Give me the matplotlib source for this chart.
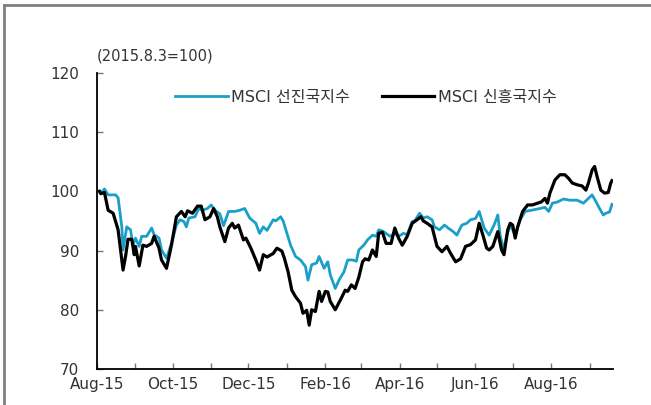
import matplotlib
matplotlib.use("Agg")
import matplotlib.pyplot as plt
import matplotlib.dates as mdates
from matplotlib.lines import Line2D
import pandas as pd

# Latin text in DejaVu (wide like the original), Hangul falls back to Noto CJK
plt.rcParams['font.family'] = ['DejaVu Sans', 'Noto Sans CJK KR']

# MSCI developed markets index (2015.8.3=100)
dev_dates = [
    "2015-08-03", "2015-08-05", "2015-08-07", "2015-08-10", "2015-08-16", "2015-08-18",
    "2015-08-21", "2015-08-22", "2015-08-25", "2015-08-28", "2015-08-30", "2015-09-01",
    "2015-09-04", "2015-09-06", "2015-09-10", "2015-09-14", "2015-09-16", "2015-09-20",
    "2015-09-22", "2015-09-26", "2015-09-30", "2015-10-04", "2015-10-07", "2015-10-10",
    "2015-10-12", "2015-10-14", "2015-10-19", "2015-10-22", "2015-10-25", "2015-10-29",
    "2015-11-01", "2015-11-04", "2015-11-08", "2015-11-11", "2015-11-15", "2015-11-20",
    "2015-11-24", "2015-11-28", "2015-12-02", "2015-12-07", "2015-12-10", "2015-12-13",
    "2015-12-16", "2015-12-21", "2015-12-23", "2015-12-27", "2015-12-29", "2016-01-04",
    "2016-01-08", "2016-01-12", "2016-01-16", "2016-01-18", "2016-01-21", "2016-01-25",
    "2016-01-27", "2016-01-31", "2016-02-03", "2016-02-05", "2016-02-09", "2016-02-12",
    "2016-02-16", "2016-02-19", "2016-02-23", "2016-02-26", "2016-02-28", "2016-03-03",
    "2016-03-06", "2016-03-10", "2016-03-13", "2016-03-15", "2016-03-19", "2016-03-24",
    "2016-03-28", "2016-03-31", "2016-04-04", "2016-04-07", "2016-04-11", "2016-04-13",
    "2016-04-17", "2016-04-20", "2016-04-23", "2016-04-27", "2016-04-29", "2016-05-03",
    "2016-05-07", "2016-05-10", "2016-05-14", "2016-05-17", "2016-05-21", "2016-05-25",
    "2016-05-28", "2016-06-01", "2016-06-04", "2016-06-08", "2016-06-12", "2016-06-16",
    "2016-06-19", "2016-06-21", "2016-06-24", "2016-06-26", "2016-06-29", "2016-07-03",
    "2016-07-07", "2016-07-11", "2016-07-16", "2016-07-23", "2016-07-27", "2016-07-30",
    "2016-08-02", "2016-08-06", "2016-08-11", "2016-08-16", "2016-08-22", "2016-08-27",
    "2016-08-31", "2016-09-03", "2016-09-06", "2016-09-09", "2016-09-12", "2016-09-14",
    "2016-09-17", "2016-09-19",
]
dev_values = [
    100.0, 99.8, 100.4, 99.4, 99.4, 98.9,
    94.0, 90.1, 94.0, 93.5, 90.9, 92.1,
    90.7, 92.4, 92.4, 93.8, 92.7, 92.1,
    90.1, 88.7, 91.2, 94.3, 95.2, 94.9,
    94.0, 95.5, 95.7, 97.1, 96.8, 97.1,
    97.7, 96.8, 96.2, 94.2, 96.6, 96.6,
    96.8, 97.1, 95.5, 94.6, 92.9, 94.0,
    93.4, 95.2, 95.0, 95.7, 95.0, 90.9,
    89.0, 88.4, 87.3, 85.0, 87.6, 87.9,
    89.0, 87.0, 88.1, 85.9, 83.6, 85.0,
    86.4, 88.4, 88.4, 88.2, 90.1, 90.9,
    91.8, 92.6, 92.4, 93.5, 93.2, 92.4,
    92.9, 92.4, 92.9, 92.7, 94.9, 95.0,
    96.3, 95.5, 95.7, 95.2, 94.0, 93.5,
    94.3, 93.8, 93.2, 92.6, 94.3, 94.6,
    95.2, 95.4, 96.6, 93.8, 92.6, 94.3,
    96.0, 92.4, 90.1, 92.4, 94.3, 92.6,
    95.2, 96.6, 96.8, 97.1, 97.3, 96.6,
    98.0, 98.2, 98.7, 98.5, 98.5, 98.0,
    98.8, 99.4, 98.3, 97.1, 96.0, 96.3,
    96.5, 97.8,
]

# MSCI emerging markets index (2015.8.3=100)
em_dates = [
    "2015-08-03", "2015-08-04", "2015-08-07", "2015-08-10", "2015-08-14", "2015-08-18",
    "2015-08-22", "2015-08-24", "2015-08-26", "2015-08-29", "2015-08-31", "2015-09-01",
    "2015-09-04", "2015-09-07", "2015-09-10", "2015-09-14", "2015-09-16", "2015-09-20",
    "2015-09-22", "2015-09-26", "2015-09-30", "2015-10-04", "2015-10-08", "2015-10-11",
    "2015-10-13", "2015-10-17", "2015-10-21", "2015-10-24", "2015-10-27", "2015-10-31",
    "2015-11-03", "2015-11-06", "2015-11-08", "2015-11-11", "2015-11-12", "2015-11-15",
    "2015-11-18", "2015-11-20", "2015-11-23", "2015-11-27", "2015-11-29", "2015-12-03",
    "2015-12-07", "2015-12-10", "2015-12-13", "2015-12-16", "2015-12-21", "2015-12-24",
    "2015-12-28", "2015-12-30", "2016-01-02", "2016-01-05", "2016-01-08", "2016-01-12",
    "2016-01-14", "2016-01-17", "2016-01-19", "2016-01-21", "2016-01-24", "2016-01-27",
    "2016-01-29", "2016-02-01", "2016-02-03", "2016-02-05", "2016-02-09", "2016-02-14",
    "2016-02-17", "2016-02-19", "2016-02-22", "2016-02-25", "2016-02-28", "2016-03-02",
    "2016-03-04", "2016-03-07", "2016-03-10", "2016-03-13", "2016-03-15", "2016-03-18",
    "2016-03-21", "2016-03-25", "2016-03-28", "2016-03-31", "2016-04-03", "2016-04-07",
    "2016-04-11", "2016-04-15", "2016-04-18", "2016-04-20", "2016-04-23", "2016-04-27",
    "2016-05-01", "2016-05-05", "2016-05-09", "2016-05-12", "2016-05-16", "2016-05-20",
    "2016-05-24", "2016-05-28", "2016-06-01", "2016-06-04", "2016-06-07", "2016-06-10",
    "2016-06-12", "2016-06-15", "2016-06-19", "2016-06-22", "2016-06-24", "2016-06-27",
    "2016-06-29", "2016-07-01", "2016-07-03", "2016-07-05", "2016-07-09", "2016-07-13",
    "2016-07-17", "2016-07-21", "2016-07-24", "2016-07-27", "2016-07-29", "2016-07-31",
    "2016-08-04", "2016-08-08", "2016-08-12", "2016-08-15", "2016-08-18", "2016-08-22",
    "2016-08-26", "2016-08-29", "2016-08-31", "2016-09-03", "2016-09-05", "2016-09-07",
    "2016-09-10", "2016-09-13", "2016-09-16", "2016-09-18", "2016-09-19",
]
em_values = [
    100.0, 99.6, 99.8, 96.8, 96.3, 93.5,
    86.7, 89.0, 91.9, 91.9, 89.3, 90.7,
    87.4, 90.9, 90.7, 91.2, 92.4, 90.4,
    88.4, 87.0, 90.9, 95.7, 96.6, 95.7,
    96.7, 96.3, 97.5, 97.5, 95.2, 95.7,
    97.1, 95.7, 94.0, 92.1, 91.5, 93.8,
    94.6, 93.8, 94.3, 91.8, 92.1, 90.4,
    88.4, 86.7, 89.3, 88.9, 89.5, 90.4,
    89.9, 88.7, 86.4, 83.3, 82.2, 81.1,
    79.4, 79.9, 77.4, 80.0, 79.7, 83.1,
    81.4, 83.1, 83.0, 81.4, 80.0, 82.0,
    83.3, 83.1, 84.2, 83.6, 85.5, 88.1,
    88.6, 88.4, 90.1, 89.0, 92.9, 93.1,
    91.2, 91.2, 93.8, 92.1, 90.9, 92.4,
    94.6, 95.2, 95.7, 95.0, 94.6, 94.0,
    90.7, 89.8, 90.7, 89.5, 88.1, 88.6,
    90.7, 91.0, 91.8, 94.6, 92.6, 90.4,
    90.1, 90.7, 93.2, 90.1, 89.3, 93.5,
    94.6, 94.3, 92.1, 94.0, 96.6, 97.7,
    97.7, 98.0, 98.2, 98.8, 98.0, 99.7,
    101.9, 102.8, 102.8, 102.2, 101.4, 101.1,
    100.9, 100.2, 101.4, 103.6, 104.2, 102.5,
    100.2, 99.7, 99.8, 101.4, 101.8,
]

dev_label = "MSCI 선진국지수"
em_label = "MSCI 신흥국지수"

fig = plt.figure(figsize=(6.51, 4.05), dpi=100)
ax = fig.add_axes([0.149, 0.089, 0.792, 0.731])

ax.plot(pd.to_datetime(dev_dates), dev_values, color='#1aa0c8', lw=2.0, label=dev_label)
ax.plot(pd.to_datetime(em_dates), em_values, color='black', lw=2.3, label=em_label)

ax.set_ylim(70, 120)
ax.set_yticks(range(70, 121, 10))
ax.set_xlim(pd.Timestamp("2015-08-01"), pd.Timestamp("2016-09-19 12:00"))

# a tick every month, a label every second month
ax.xaxis.set_major_locator(mdates.MonthLocator())
fmt = mdates.DateFormatter('%b-%y')
ax.xaxis.set_major_formatter(
    plt.FuncFormatter(lambda v, p: fmt(v) if mdates.num2date(v).month % 2 == 0 else ''))

for s in ['top', 'right']:
    ax.spines[s].set_visible(False)
for s in ['left', 'bottom']:
    ax.spines[s].set_linewidth(1.3)

ax.tick_params(axis='both', direction='in', length=4, width=1, color='#777777',
               labelsize=11, labelcolor='#333333')
ax.tick_params(axis='y', pad=13)
ax.tick_params(axis='x', pad=6)

fig.text(0.149, 0.862, "(2015.8.3=100)", fontsize=10.5, color='#333333',
         ha='left', va='center')

leg = ax.legend(loc='center left', bbox_to_anchor=(0.269, 0.760),
                bbox_transform=fig.transFigure, ncol=2, frameon=False, fontsize=11.5,
                handlelength=3.3, handletextpad=0.2, columnspacing=2.0,
                borderpad=0, borderaxespad=0)
for t in leg.get_texts():
    t.set_color('#333333')

# grey frame at the top and left of the picture
fig.add_artist(Line2D([3.5 / 651, 1], [1 - 5 / 405, 1 - 5 / 405], color='#808080', lw=2,
                      transform=fig.transFigure))
fig.add_artist(Line2D([3.5 / 651, 3.5 / 651], [0, 1 - 5 / 405], color='#808080', lw=2,
                      transform=fig.transFigure))

fig.savefig('out.png', dpi=100)
